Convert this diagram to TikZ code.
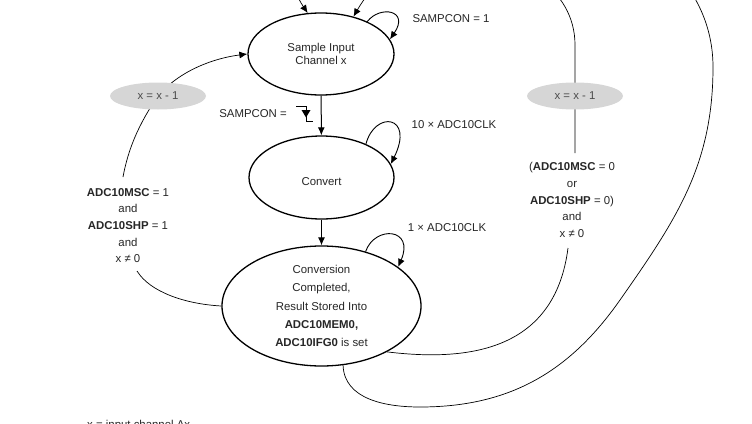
\documentclass[tikz,border=0pt]{standalone}
\usepackage{fontspec}
\setmainfont{Liberation Sans}
\usetikzlibrary{shapes.geometric,arrows.meta}
\begin{document}
\begin{tikzpicture}[x=1pt,y=1pt,
  every node/.style={font=\fontsize{11.4}{13}\selectfont, text=black!85},
  stateE/.style={ellipse, draw, line width=1.3pt, inner sep=0pt, align=center},
  decE/.style={ellipse, fill=black!16, inner sep=0pt, minimum width=96pt, minimum height=27pt, text=black!70},
  conn/.style={line width=0.7pt},
  arr/.style={-{Latex[length=8pt,width=7pt]}},
  lbl/.style={align=center, inner sep=0pt},
]
\useasboundingbox (0,0) rectangle (752,-423);
\clip (0,0) rectangle (752,-423);

% states
\node[stateE, minimum width=146pt, minimum height=82pt] (samp) at (321,-54) {Sample Input\\Channel x};
\node[stateE, minimum width=145pt, minimum height=83pt, text height=16pt] (conv) at (321.5,-177.5) {Convert};
\node[stateE, minimum width=199pt, minimum height=120pt, font=\fontsize{11.4}{18.3}\selectfont] (done) at (321.5,-306)
  {Conversion\\Completed,\\Result Stored Into\\\textbf{ADC10MEM0,}\\\textbf{ADC10IFG0} is set};

% labels
\node[lbl] (lsc1) at (451,-19) {SAMPCON = 1};
\node[lbl, anchor=east] (lsc0) at (287,-114) {SAMPCON =};
\node[lbl] (l10) at (454,-125) {10 × ADC10CLK};
\node[lbl] (l1) at (447,-228) {1 × ADC10CLK};
\node[lbl, font=\fontsize{11.4}{16.7}\selectfont] (condL) at (128,-225.5)
  {\textbf{ADC10MSC} = 1\\and\\\textbf{ADC10SHP} = 1\\and\\x ≠ 0};
\node[lbl, font=\fontsize{11.4}{16.6}\selectfont] (condR) at (572,-200)
  {(\textbf{ADC10MSC} = 0\\or\\\textbf{ADC10SHP} = 0)\\and\\x ≠ 0};
\node[lbl, anchor=north west] (legend) at (87,-420) {x = input channel Ax};

% falling edge symbol
\draw[line width=0.8pt] (296,-106) -- (306,-106) -- (306,-121) -- (313,-121);
\fill (301.5,-110) -- (310.5,-110) -- (306,-117.5) -- cycle;

% connector end points
\coordinate (cL1) at (137,-271);
\coordinate (cL2) at (123,-177);
\coordinate (cR1) at (568,-248);
\coordinate (cR2) at (575,-153);
\coordinate (cR3) at (575,-45);
\coordinate (apI) at (460,45);
\coordinate (o1) at (420,-407);
\coordinate (o2) at (620,-300);
\coordinate (o3) at (713,-67);
\coordinate (apO) at (540,85);

% main flow
\draw[line width=1pt, arr] (samp) -- (conv);
\draw[line width=1pt, arr] (conv) -- (done);

% self loops
\draw[line width=0.9pt, arr] (samp.35) .. controls (380,-5) and (410,-10) .. (samp.12);
\draw[line width=0.9pt, arr] (conv.37) .. controls (375,-110) and (415,-115) .. (conv.11);
\draw[line width=0.9pt, arr] (done.51) .. controls (375,-225) and (415,-228) .. (done.27);

% left return path
\draw[conn] (done.west) .. controls (185,-304) and (150,-292) .. (cL1);
\draw[conn] (cL2) .. controls (128,-150) and (138,-125) .. (158,-96);
\draw[conn, arr] (158,-96) .. controls (180,-70) and (215,-58) .. (samp.west);
\node[decE] (decL) at (158,-96) {x = x - 1};

% right inner path
\draw[conn] (done.-35) .. controls (470,-362) and (555,-350) .. (cR1);
\draw[conn, arr] (cR2) -- (cR3) to[out=90,in=0] (apI) to[out=180,in=60] (samp.49);
\node[decE] (decR) at (575,-96) {x = x - 1};

% right outer path
\draw[conn, arr] (done.-70) to[out=-88,in=180] (o1) to[out=0,in=235] (o2) to[out=55,in=-90] (o3)
  to[out=90,in=0] (apO) to[out=180,in=124] (samp.108);
\end{tikzpicture}
\end{document}
